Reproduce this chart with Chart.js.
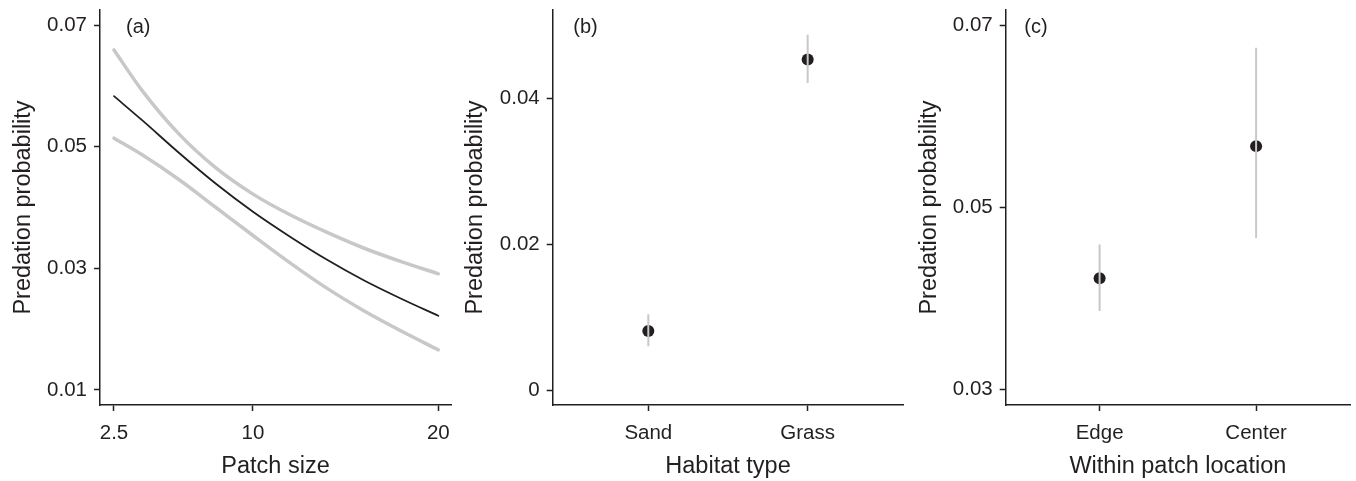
<!DOCTYPE html>
<html>
<head>
<meta charset="utf-8">
<script src="https://cdn.jsdelivr.net/npm/chart.js@4.4.1/dist/chart.umd.min.js"></script>
<style>
  html, body { margin: 0; padding: 0; background: #fff; width: 1356px; height: 481px; overflow: hidden; }
  .panel { position: absolute; top: 0; height: 481px; }
</style>
</head>
<body>
<div class="panel" style="left:0px"><canvas id="chartA" width="460" height="481"></canvas></div>
<div class="panel" style="left:455px"><canvas id="chartB" width="455" height="481"></canvas></div>
<div class="panel" style="left:910px"><canvas id="chartC" width="446" height="481"></canvas></div>
<script>
// (a) fitted predation probability vs patch size
const patchSize = [2.5, 4, 6, 8, 10, 12, 14, 16, 18, 20];
const fitMean = [0.0583, 0.0544, 0.0490, 0.0439, 0.0393, 0.0352, 0.0314, 0.0280, 0.0250, 0.0222];
const fitUpper = [0.0659, 0.0593, 0.0521, 0.0465, 0.0422, 0.0388, 0.0359, 0.0333, 0.0311, 0.0291];
const fitLower = [0.0514, 0.0487, 0.0446, 0.0400, 0.0354, 0.0309, 0.0267, 0.0230, 0.0197, 0.0166];
const xTicksA = [2.5, 10, 20];
const xLabelsA = ['2.5', '10', '20'];
const yTicksA = [0.01, 0.03, 0.05, 0.07];
const yLabelsA = ['0.01', '0.03', '0.05', '0.07'];

// (b) habitat type
const habitats = ['Sand', 'Grass'];
const habitatMean = [0.0081, 0.0453];
const habitatLow = [0.0060, 0.0421];
const habitatHigh = [0.0104, 0.0487];
const yTicksB = [0, 0.02, 0.04];
const yLabelsB = ['0', '0.02', '0.04'];

// (c) within patch location
const locations = ['Edge', 'Center'];
const locationMean = [0.0422, 0.0567];
const locationLow = [0.0386, 0.0466];
const locationHigh = [0.0459, 0.0675];
const yTicksC = [0.03, 0.05, 0.07];
const yLabelsC = ['0.03', '0.05', '0.07'];

const ink = '#231f20';
const band = '#c8c8c8';
const family = "'Liberation Sans', Arial, Helvetica, sans-serif";

const panelTag = {
  id: 'panelTag',
  afterDraw(chart, args, opts) {
    const ctx = chart.ctx;
    ctx.save();
    ctx.font = '20px ' + family;
    ctx.fillStyle = ink;
    ctx.textBaseline = 'middle';
    ctx.fillText(opts.text, chart.chartArea.left + opts.dx, 27);
    ctx.restore();
  }
};

function yAxis(min, max, ticks, labels, width, titlePad) {
  return {
    type: 'linear', min: min, max: max,
    afterBuildTicks: s => { s.ticks = ticks.map(v => ({ value: v })); },
    afterFit: s => { s.width = width; s.paddingTop = 0; s.paddingBottom = 0; },
    ticks: { callback: (v, i) => labels[i], color: ink, font: { size: 20.5, family: family }, padding: 7 },
    grid: { drawOnChartArea: false, drawTicks: true, tickLength: 6, tickColor: ink, tickWidth: 1.5 },
    border: { display: true, color: ink, width: 1.5 },
    title: { display: true, text: 'Predation probability', color: ink,
             font: { size: 23.5, family: family }, padding: { top: titlePad, bottom: 0 } }
  };
}

function xAxis(min, max, ticks, labels, title) {
  return {
    type: 'linear', min: min, max: max,
    afterBuildTicks: s => { s.ticks = ticks.map(v => ({ value: v })); },
    afterFit: s => { s.height = 76; s.paddingLeft = 0; s.paddingRight = 0; },
    ticks: { callback: (v, i) => labels[i], color: ink, font: { size: 20.5, family: family },
             padding: 10, maxRotation: 0, autoSkip: false },
    grid: { drawOnChartArea: false, drawTicks: true, tickLength: 6, tickColor: ink, tickWidth: 1.5 },
    border: { display: true, color: ink, width: 1.5 },
    title: { display: true, text: title, color: ink,
             font: { size: 23.5, family: family }, padding: { top: 0, bottom: 0 } }
  };
}

function baseOptions(padRight, xScale, yScale, tag, dx) {
  return {
    responsive: false,
    animation: false,
    devicePixelRatio: 1,
    layout: { padding: { top: 10, right: padRight, bottom: 0, left: 0 } },
    plugins: { legend: { display: false }, tooltip: { enabled: false }, panelTag: { text: tag, dx: dx } },
    scales: { x: xScale, y: yScale }
  };
}

function curve(ys, color, width) {
  return {
    data: patchSize.map((x, i) => ({ x: x, y: ys[i] })),
    borderColor: color, borderWidth: width, pointRadius: 0,
    cubicInterpolationMode: 'monotone', fill: false, borderCapStyle: 'round'
  };
}

new Chart(document.getElementById('chartA'), {
  type: 'line',
  data: {
    datasets: [
      curve(fitUpper, band, 3.5),
      curve(fitLower, band, 3.5),
      curve(fitMean, ink, 1.8)
    ]
  },
  options: baseOptions(9,
    xAxis(1.745, 20.685, xTicksA, xLabelsA, 'Patch size'),
    yAxis(0.00753, 0.07247, yTicksA, yLabelsA, 100, 9),
    '(a)', 26),
  plugins: [panelTag]
});

function pointPanel(id, cats, mean, low, high, yMin, yMax, yTicks, yLabels, yWidth, titlePad, padRight, xTitle, tag, dx) {
  const bars = cats.map((c, i) => ({
    type: 'line',
    data: [{ x: i + 1, y: low[i] }, { x: i + 1, y: high[i] }],
    borderColor: band, borderWidth: 2, pointRadius: 0
  }));
  const dots = {
    type: 'scatter',
    data: cats.map((c, i) => ({ x: i + 1, y: mean[i] })),
    backgroundColor: ink, borderColor: ink, borderWidth: 0, pointRadius: 6
  };
  new Chart(document.getElementById(id), {
    type: 'scatter',
    data: { datasets: bars.concat([dots]) },
    options: baseOptions(padRight,
      xAxis(0.4, 2.6, [1, 2], cats, xTitle),
      yAxis(yMin, yMax, yTicks, yLabels, yWidth, titlePad),
      tag, dx),
    plugins: [panelTag]
  });
}

pointPanel('chartB', habitats, habitatMean, habitatLow, habitatHigh,
  -0.00205, 0.0521, yTicksB, yLabelsB, 97.7, 6, 6.7, 'Habitat type', '(b)', 20.6);
pointPanel('chartC', locations, locationMean, locationLow, locationHigh,
  0.02827, 0.07165, yTicksC, yLabelsC, 95.7, 5.4, 0, 'Within patch location', '(c)', 18.6);
</script>
</body>
</html>
